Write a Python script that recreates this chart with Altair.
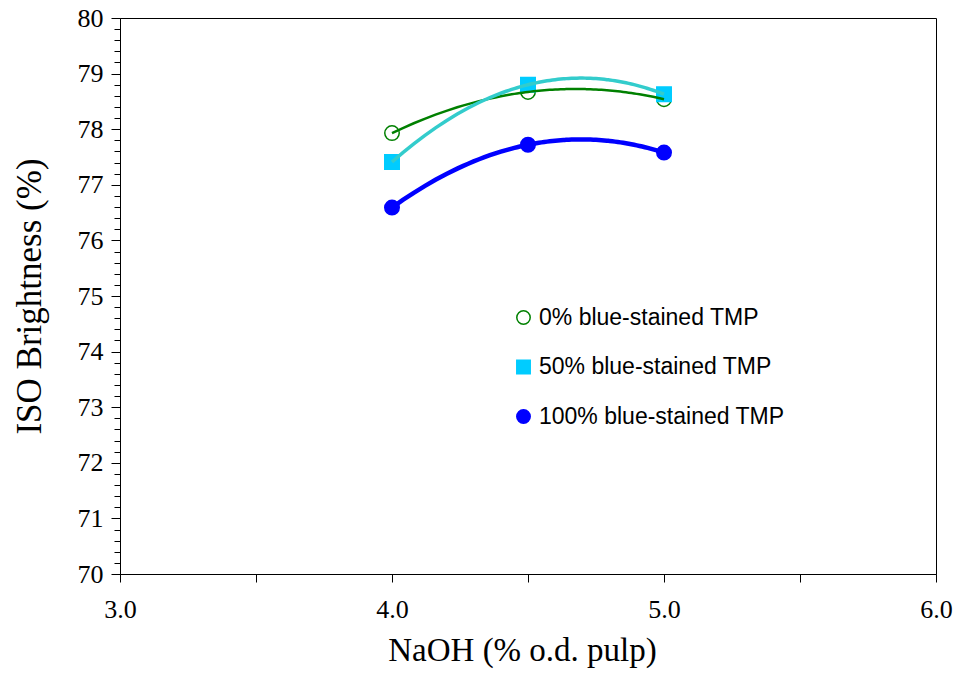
import altair as alt
import pandas as pd

naoh = [4.0, 4.5, 5.0]
series_names = ["0% blue-stained TMP", "50% blue-stained TMP", "100% blue-stained TMP"]
bright_0 = [77.93, 78.67, 78.54]
bright_50 = [77.41, 78.80, 78.63]
bright_100 = [76.59, 77.72, 77.58]

x_ticks = [3.0, 3.5, 4.0, 4.5, 5.0, 5.5, 6.0]
y_ticks = [round(70 + 0.2 * i, 1) for i in range(51)]

rows = []
for name, vals in zip(series_names, [bright_0, bright_50, bright_100]):
    for x, y in zip(naoh, vals):
        rows.append({"series": name, "x": x, "y": y})
df = pd.DataFrame(rows)

stroke_colors = ["#008000", "#00CCFF", "#0000FF"]
fill_colors = ["#FFFFFF", "#00CCFF", "#0000FF"]
line_colors = ["#008000", "#33CCCC", "#0000FF"]
line_widths = [2.5, 4.5, 2.8]
shapes = ["circle", "square", "circle"]

x_enc = alt.X("x:Q", scale=alt.Scale(domain=[3, 6], nice=False, zero=False),
              axis=alt.Axis(values=x_ticks, tickCount=100, title="NaOH (% o.d. pulp)",
                            labelExpr="datum.value % 1 == 0 ? format(datum.value, '.1f') : ''",
                            tickSize=8, labelPadding=14, titlePadding=12, titleX=402,
                            labelOverlap=False, labelFlush=False,
                            labelFontSize=26, titleFontSize=33, grid=False))
y_enc = alt.Y("y:Q", scale=alt.Scale(domain=[70, 80], nice=False, zero=False),
              axis=alt.Axis(values=y_ticks, tickCount=100, title="ISO Brightness (%)",
                            labelExpr="datum.value % 1 == 0 ? format(datum.value, 'd') : ''",
                            tickSize={"condition": {"test": "datum.value % 1 == 0", "value": 9}, "value": 6},
                            labelPadding=8, titlePadding=30,
                            labelOverlap=False, labelFlush=False, labelBaseline="middle",
                            labelFontSize=26, titleFontSize=35, grid=False))

base = alt.Chart(df)

points = base.mark_point(opacity=1, strokeWidth=1.5, size=210).encode(
    x=x_enc, y=y_enc,
    stroke=alt.Stroke("series:N", scale=alt.Scale(domain=series_names, range=stroke_colors),
                      legend=alt.Legend(title=None)),
    fill=alt.Fill("series:N", scale=alt.Scale(domain=series_names, range=fill_colors),
                  legend=alt.Legend(title=None)),
    shape=alt.Shape("series:N", scale=alt.Scale(domain=series_names, range=shapes),
                    legend=alt.Legend(title=None)),
)

lines = base.transform_regression(
    "x", "y", method="poly", order=2, groupby=["series"]
).mark_line().encode(
    x="x:Q", y="y:Q",
    color=alt.Color("series:N", scale=alt.Scale(domain=series_names, range=line_colors), legend=None),
    strokeWidth=alt.StrokeWidth("series:N", scale=alt.Scale(domain=series_names, range=line_widths), legend=None),
)

chart = alt.layer(points, lines).resolve_scale(
    color="independent", stroke="independent", fill="independent", shape="independent"
).properties(
    width=816, height=556,
    autosize=alt.AutoSizeParams(type="none"),
    padding={"left": 120, "top": 18, "right": 21, "bottom": 104},
).configure_view(
    stroke="#000000", strokeWidth=1
).configure_axis(
    labelFont="Liberation Serif", titleFont="Liberation Serif",
    labelColor="#000000", titleColor="#000000",
    domainColor="#000000", tickColor="#000000", domainWidth=1, tickWidth=1,
    titleFontWeight="normal",
).configure_legend(
    orient="none", legendX=392, legendY=288,
    labelFont="Liberation Sans", labelFontSize=23, labelColor="#000000", labelLimit=0,
    symbolSize=180, rowPadding=25.5, symbolStrokeWidth=1.5, labelOffset=4,
    symbolOpacity=1,
)

chart.save("out.html", embed_options={"renderer": "svg", "actions": False})
